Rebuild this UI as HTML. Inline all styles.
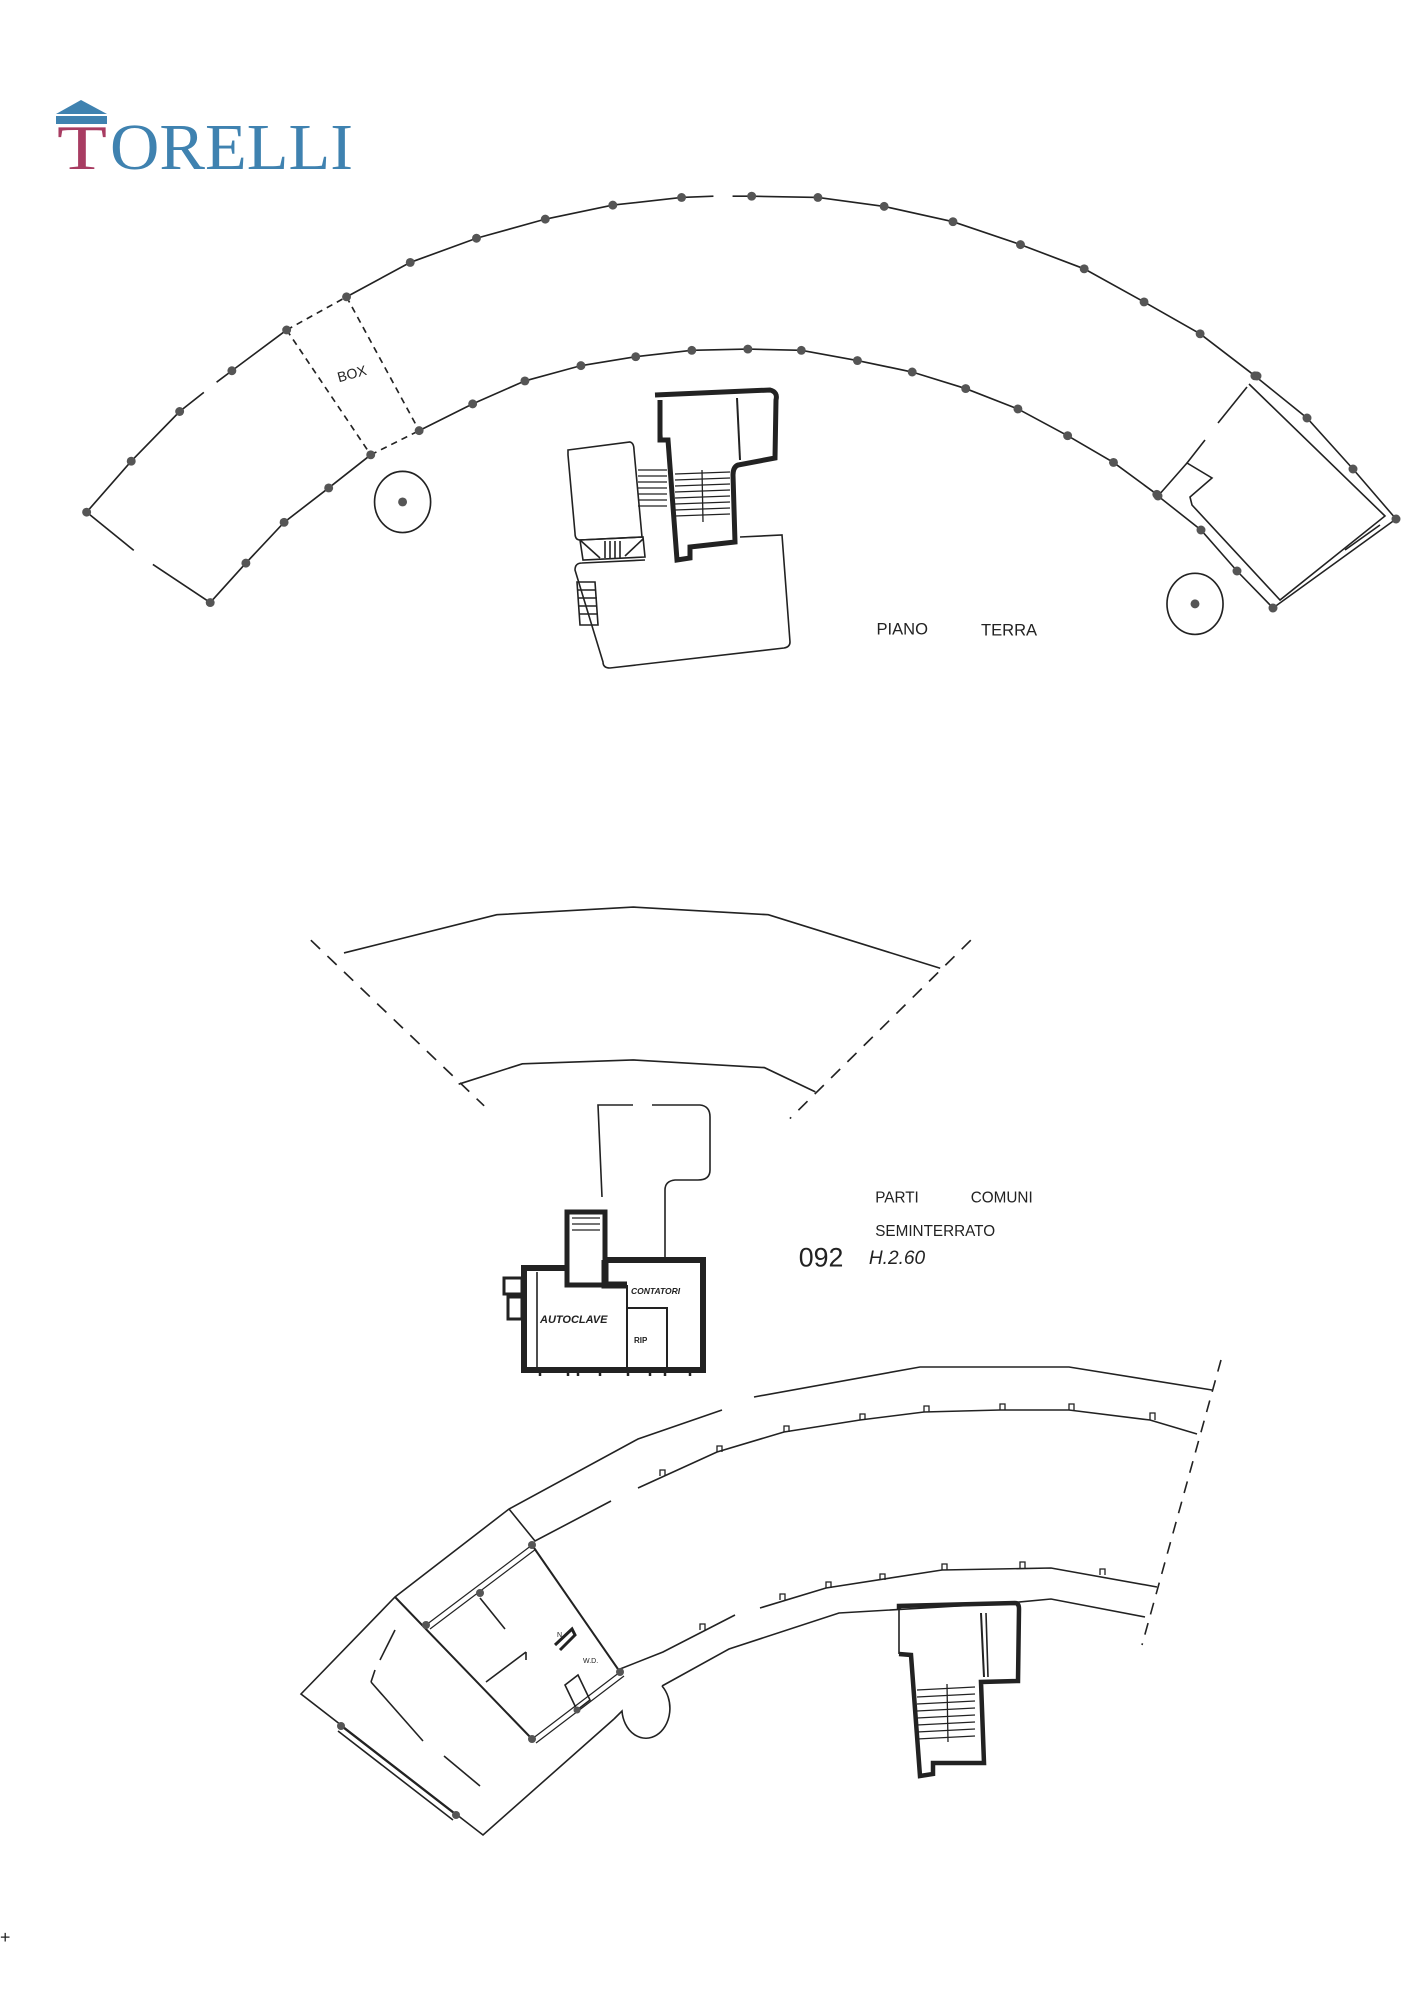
<!DOCTYPE html>
<html><head><meta charset="utf-8"><style>
html,body{margin:0;padding:0;background:#fff;}
svg{display:block;}
.h{font-family:"Liberation Sans",sans-serif;fill:#222;}
</style></head><body>
<svg width="1414" height="2000" viewBox="0 0 1414 2000" xmlns="http://www.w3.org/2000/svg">
<!-- logo -->
<polygon points="56,114 81,100 107,114" fill="#3f82b0"/>
<rect x="56" y="116" width="51" height="8" fill="#3f82b0"/>
<text x="57" y="169" font-family="Liberation Serif,serif" font-size="64" fill="#a83c62" textLength="50" lengthAdjust="spacingAndGlyphs">T</text>
<text x="110" y="169" font-family="Liberation Serif,serif" font-size="66" fill="#3f82b0" textLength="243" lengthAdjust="spacingAndGlyphs">ORELLI</text>

<g transform="scale(1.274)" fill="none" stroke="#222" stroke-width="1.3">
<!-- TOP PLAN arcs -->
<polyline points="68,402 103,362 141,323 160,308"/>
<polyline points="170,300 182,291 225,259"/>
<line x1="225" y1="259" x2="272" y2="233" stroke-dasharray="5,4"/>
<polyline points="272,233 322,206 374,187 428,172 481,161 535,155 560,154"/>
<polyline points="575,154 590,154 642,155 694,162 748,174 801,192 851,211 898,237 942,262 985,295"/>
<polyline points="165,473 193,442 223,410 258,383 291,357"/>
<line x1="291" y1="357" x2="329" y2="338" stroke-dasharray="5,4"/>
<polyline points="329,338 371,317 412,299 456,287 499,280 543,275 587,274 629,275 673,283 716,292 758,305 799,321 838,342 874,363 908,388"/>
<line x1="68" y1="402" x2="105" y2="432"/><line x1="120" y1="443" x2="165" y2="473"/>
<line x1="225" y1="259" x2="291" y2="357" stroke-dasharray="5,4"/>
<line x1="272" y1="233" x2="329" y2="338" stroke-dasharray="5,4"/>
<text x="266" y="300" class="h" font-size="11" stroke="none" transform="rotate(-15 266 300)">BOX</text>
<g fill="#555" stroke="none">
<circle cx="68" cy="402" r="3.5"/><circle cx="103" cy="362" r="3.5"/><circle cx="141" cy="323" r="3.5"/><circle cx="182" cy="291" r="3.5"/><circle cx="225" cy="259" r="3.5"/><circle cx="272" cy="233" r="3.5"/><circle cx="322" cy="206" r="3.5"/><circle cx="374" cy="187" r="3.5"/><circle cx="428" cy="172" r="3.5"/><circle cx="481" cy="161" r="3.5"/><circle cx="535" cy="155" r="3.5"/><circle cx="590" cy="154" r="3.5"/><circle cx="642" cy="155" r="3.5"/><circle cx="694" cy="162" r="3.5"/><circle cx="748" cy="174" r="3.5"/><circle cx="801" cy="192" r="3.5"/><circle cx="851" cy="211" r="3.5"/><circle cx="898" cy="237" r="3.5"/><circle cx="942" cy="262" r="3.5"/><circle cx="985" cy="295" r="3.5"/>
<circle cx="165" cy="473" r="3.5"/><circle cx="193" cy="442" r="3.5"/><circle cx="223" cy="410" r="3.5"/><circle cx="258" cy="383" r="3.5"/><circle cx="291" cy="357" r="3.5"/><circle cx="329" cy="338" r="3.5"/><circle cx="371" cy="317" r="3.5"/><circle cx="412" cy="299" r="3.5"/><circle cx="456" cy="287" r="3.5"/><circle cx="499" cy="280" r="3.5"/><circle cx="543" cy="275" r="3.5"/><circle cx="587" cy="274" r="3.5"/><circle cx="629" cy="275" r="3.5"/><circle cx="673" cy="283" r="3.5"/><circle cx="716" cy="292" r="3.5"/><circle cx="758" cy="305" r="3.5"/><circle cx="799" cy="321" r="3.5"/><circle cx="838" cy="342" r="3.5"/><circle cx="874" cy="363" r="3.5"/><circle cx="908" cy="388" r="3.5"/>
<circle cx="316" cy="394" r="3.5"/><circle cx="938" cy="474" r="3.5"/>
</g>
<ellipse cx="316" cy="394" rx="22" ry="24"/><ellipse cx="938" cy="474" rx="22" ry="24"/>
<text x="688" y="498" class="h" font-size="13" stroke="none">PIANO</text>
<text x="770" y="499" class="h" font-size="13" stroke="none">TERRA</text>

<!-- BOTTOM: upper band -->
<polyline points="270,748 390,718 497,712 603,718 738,760"/>
<polyline points="360,851 410,835 497,832 600,838 640,857"/>
<line x1="244" y1="738" x2="380" y2="868" stroke-dasharray="10,8"/>
<line x1="762" y1="738" x2="620" y2="878" stroke-dasharray="10,8"/>
<text x="687" y="944" class="h" font-size="12" stroke="none">PARTI</text>
<text x="762" y="944" class="h" font-size="12" stroke="none">COMUNI</text>
<text x="687" y="970" class="h" font-size="12" stroke="none">SEMINTERRATO</text>
<text x="627" y="994" class="h" font-size="21" stroke="none">092</text>
<text x="682" y="992" class="h" font-size="15" stroke="none" font-style="italic">H.2.60</text>
<text x="0" y="1525" class="h" font-size="14" stroke="none">+</text>
</g>

<g fill="none" stroke="#222" stroke-width="1.6">
<!-- right room top plan -->
<polyline points="1255,376 1307,418 1353,469 1396,519 1273,608 1237,571 1201,530 1158,496"/>
<polyline points="1249,384 1385,516 1280,600 1192,505 1190,497 1212,478 1187,463 1158,496"/>
<line x1="1187" y1="463" x2="1205" y2="440"/>
<line x1="1218" y1="423" x2="1247" y2="387"/>
<line x1="1380" y1="525" x2="1345" y2="550"/>
<g fill="#555" stroke="none">
<circle cx="1257" cy="376" r="4.5"/><circle cx="1307" cy="418" r="4.5"/><circle cx="1353" cy="469" r="4.5"/><circle cx="1396" cy="519" r="4.5"/><circle cx="1273" cy="608" r="4.5"/><circle cx="1237" cy="571" r="4.5"/><circle cx="1201" cy="530" r="4.5"/><circle cx="1158" cy="496" r="4.5"/>
</g>

<!-- central building top -->
<path d="M655,395 L770,390 Q778,392 776,400 L775,458 L738,465 Q733,467 733,475 L735,542 L690,547 L690,558 L677,560 L668,440 L660,440 L660,400" stroke-width="5"/>
<line x1="660" y1="400" x2="662" y2="440"/>
<line x1="737" y1="398" x2="740" y2="460" stroke-width="2"/>
<path d="M568,450 L630,442 Q634,443 634,450 L642,537 L580,540 Q575,540 575,533 L568,455 Z"/>
<path d="M580,540 L643,537 L645,557 L583,560 Z"/>
<line x1="580" y1="540" x2="600" y2="558"/><line x1="643" y1="539" x2="625" y2="556"/>
<line x1="605" y1="541" x2="605" y2="558"/><line x1="610" y1="541" x2="610" y2="558"/><line x1="615" y1="541" x2="615" y2="558"/><line x1="620" y1="541" x2="620" y2="558"/>
<g stroke-width="1.3">
<line x1="638" y1="470" x2="667" y2="470"/><line x1="638" y1="476" x2="667" y2="476"/><line x1="638" y1="482" x2="667" y2="482"/><line x1="638" y1="488" x2="667" y2="488"/><line x1="638" y1="494" x2="667" y2="494"/><line x1="638" y1="500" x2="667" y2="500"/><line x1="638" y1="506" x2="667" y2="506"/>
<line x1="675" y1="474" x2="730" y2="472"/><line x1="675" y1="480" x2="730" y2="478"/><line x1="675" y1="486" x2="730" y2="484"/><line x1="675" y1="492" x2="730" y2="490"/><line x1="675" y1="498" x2="730" y2="496"/><line x1="675" y1="504" x2="730" y2="502"/><line x1="675" y1="510" x2="730" y2="508"/><line x1="675" y1="516" x2="730" y2="514"/>
<line x1="702" y1="470" x2="703" y2="522"/>
</g>
<path d="M740,537 L782,535 L790,642 Q790,647 784,648 L610,668 Q603,668 603,662 L575,570 Q575,563 582,563 L645,560"/>
<path d="M577,582 L595,582 L598,625 L580,625 Z"/>
<line x1="578" y1="590" x2="596" y2="590"/><line x1="578" y1="598" x2="597" y2="598"/><line x1="579" y1="606" x2="597" y2="606"/><line x1="579" y1="614" x2="598" y2="614"/>

<!-- basement plant block -->
<path d="M602,1197 L598,1105 L633,1105 M652,1105 L700,1105 Q710,1106 710,1117 L710,1170 Q710,1180 698,1180 L675,1180 Q665,1181 665,1190 L665,1257"/>
<path d="M567,1212 L605,1212 L605,1285 L567,1285 Z" stroke-width="5"/>
<g stroke-width="1.3"><line x1="572" y1="1218" x2="600" y2="1218"/><line x1="572" y1="1224" x2="600" y2="1224"/><line x1="572" y1="1230" x2="600" y2="1230"/></g>
<path d="M605,1260 L703,1260 L703,1370 L524,1370 L524,1268 L567,1268" stroke-width="6"/>
<path d="M605,1260 L605,1285 L627,1285" stroke-width="7"/>
<line x1="537" y1="1272" x2="537" y2="1367"/>
<line x1="627" y1="1285" x2="627" y2="1370" stroke-width="2"/>
<path d="M627,1308 L667,1308 L667,1370" stroke-width="2"/>
<rect x="504" y="1278" width="18" height="16" stroke-width="3"/>
<rect x="508" y="1297" width="14" height="22" stroke-width="3"/>
<g stroke-width="2.5"><line x1="540" y1="1370" x2="540" y2="1376"/><line x1="568" y1="1370" x2="568" y2="1376"/><line x1="578" y1="1370" x2="578" y2="1376"/><line x1="600" y1="1370" x2="600" y2="1376"/><line x1="628" y1="1370" x2="628" y2="1376"/><line x1="650" y1="1370" x2="650" y2="1376"/><line x1="665" y1="1370" x2="665" y2="1376"/><line x1="690" y1="1370" x2="690" y2="1376"/></g>
<text x="540" y="1323" class="h" font-size="11" stroke="none" font-style="italic" font-weight="bold">AUTOCLAVE</text>
<text x="631" y="1294" class="h" font-size="8.5" stroke="none" font-style="italic" font-weight="bold">CONTATORI</text>
<text x="634" y="1343" class="h" font-size="8" stroke="none" font-weight="bold">RIP</text>

<!-- lower curved wing -->
<polyline points="754,1397 920,1367 1069,1367 1212,1390"/>
<polyline points="722,1410 638,1439 509,1509 395,1597 301,1694 483,1835 614,1719"/>
<polyline points="1197,1434 1150,1420 1069,1410 1000,1410 924,1412 860,1420 784,1432 717,1452 638,1488"/>
<polyline points="611,1501 535,1541 509,1509"/>
<polyline points="1157,1587 1051,1568 942,1570 826,1588 760,1608"/>
<polyline points="735,1615 663,1652 620,1669"/>
<polyline points="1145,1617 1051,1599 1009,1603 839,1613 729,1649 662,1686"/>
<path d="M662,1686 A24,30 0 1,1 622,1711 L614,1719"/>
<line x1="1221" y1="1360" x2="1142" y2="1645" stroke-dasharray="12,9"/>
<g stroke-width="1.3">
<path d="M1069,1410 v-6 h5 v6 M1150,1420 v-7 h5 v7 M1000,1410 v-6 h5 v6 M924,1412 v-6 h5 v6 M860,1420 v-6 h5 v6 M784,1432 v-6 h5 v6 M717,1452 v-6 h5 v6 M660,1476 v-6 h5 v6"/>
<path d="M942,1570 v-6 h5 v6 M1020,1568 v-6 h5 v6 M1100,1575 v-6 h5 v6 M880,1580 v-6 h5 v6 M826,1588 v-6 h5 v6 M780,1600 v-6 h5 v6 M700,1630 v-6 h5 v6"/>
</g>
<!-- rooms -->
<line x1="532" y1="1545" x2="620" y2="1672" stroke-width="2"/>
<line x1="395" y1="1597" x2="532" y2="1739" stroke-width="2"/>
<line x1="532" y1="1545" x2="426" y2="1625" stroke-width="1.2"/>
<line x1="536" y1="1549" x2="430" y2="1629" stroke-width="1.2"/>
<line x1="620" y1="1672" x2="532" y2="1739" stroke-width="1.2"/>
<line x1="624" y1="1676" x2="536" y2="1743" stroke-width="1.2"/>
<line x1="341" y1="1726" x2="456" y2="1815"/>
<line x1="338" y1="1731" x2="453" y2="1820"/>
<line x1="480" y1="1598" x2="505" y2="1629"/>
<line x1="486" y1="1682" x2="526" y2="1652"/>
<line x1="526" y1="1652" x2="526" y2="1660"/>
<line x1="371" y1="1682" x2="423" y2="1741"/>
<line x1="371" y1="1682" x2="375" y2="1670"/>
<line x1="444" y1="1756" x2="480" y2="1786"/>
<line x1="395" y1="1630" x2="380" y2="1660"/>
<path d="M555,1645 L572,1629 L575,1635 L560,1650" stroke-width="3"/>
<path d="M565,1685 L578,1675 L590,1700 L577,1710 Z"/>
<text x="557" y="1637" class="h" font-size="7" stroke="none">N</text>
<text x="583" y="1663" class="h" font-size="7" stroke="none">W.D.</text>
<g fill="#555" stroke="none">
<circle cx="532" cy="1545" r="4"/><circle cx="480" cy="1593" r="4"/><circle cx="426" cy="1625" r="4"/><circle cx="620" cy="1672" r="4"/><circle cx="577" cy="1710" r="3.5"/><circle cx="532" cy="1739" r="4"/><circle cx="341" cy="1726" r="4"/><circle cx="456" cy="1815" r="4"/>
</g>
<!-- lower stair block -->
<path d="M899,1610 L899,1606 L1015,1603 Q1019,1603 1019,1609 L1018,1681 L981,1682 L984,1763 L933,1763 L933,1774 L920,1776 L911,1655 L899,1654" stroke-width="4.5"/>
<line x1="899" y1="1610" x2="899" y2="1654"/>
<line x1="981" y1="1613" x2="984" y2="1677" stroke-width="2"/>
<line x1="986" y1="1613" x2="988" y2="1677"/>
<g stroke-width="1.3"><line x1="917" y1="1690" x2="975" y2="1687"/><line x1="917" y1="1697" x2="975" y2="1694"/><line x1="917" y1="1704" x2="975" y2="1701"/><line x1="917" y1="1711" x2="975" y2="1708"/><line x1="917" y1="1718" x2="975" y2="1715"/><line x1="917" y1="1725" x2="975" y2="1722"/><line x1="917" y1="1732" x2="975" y2="1729"/><line x1="917" y1="1739" x2="975" y2="1736"/><line x1="947" y1="1684" x2="948" y2="1742"/></g>
</g>
</svg>
</body></html>
